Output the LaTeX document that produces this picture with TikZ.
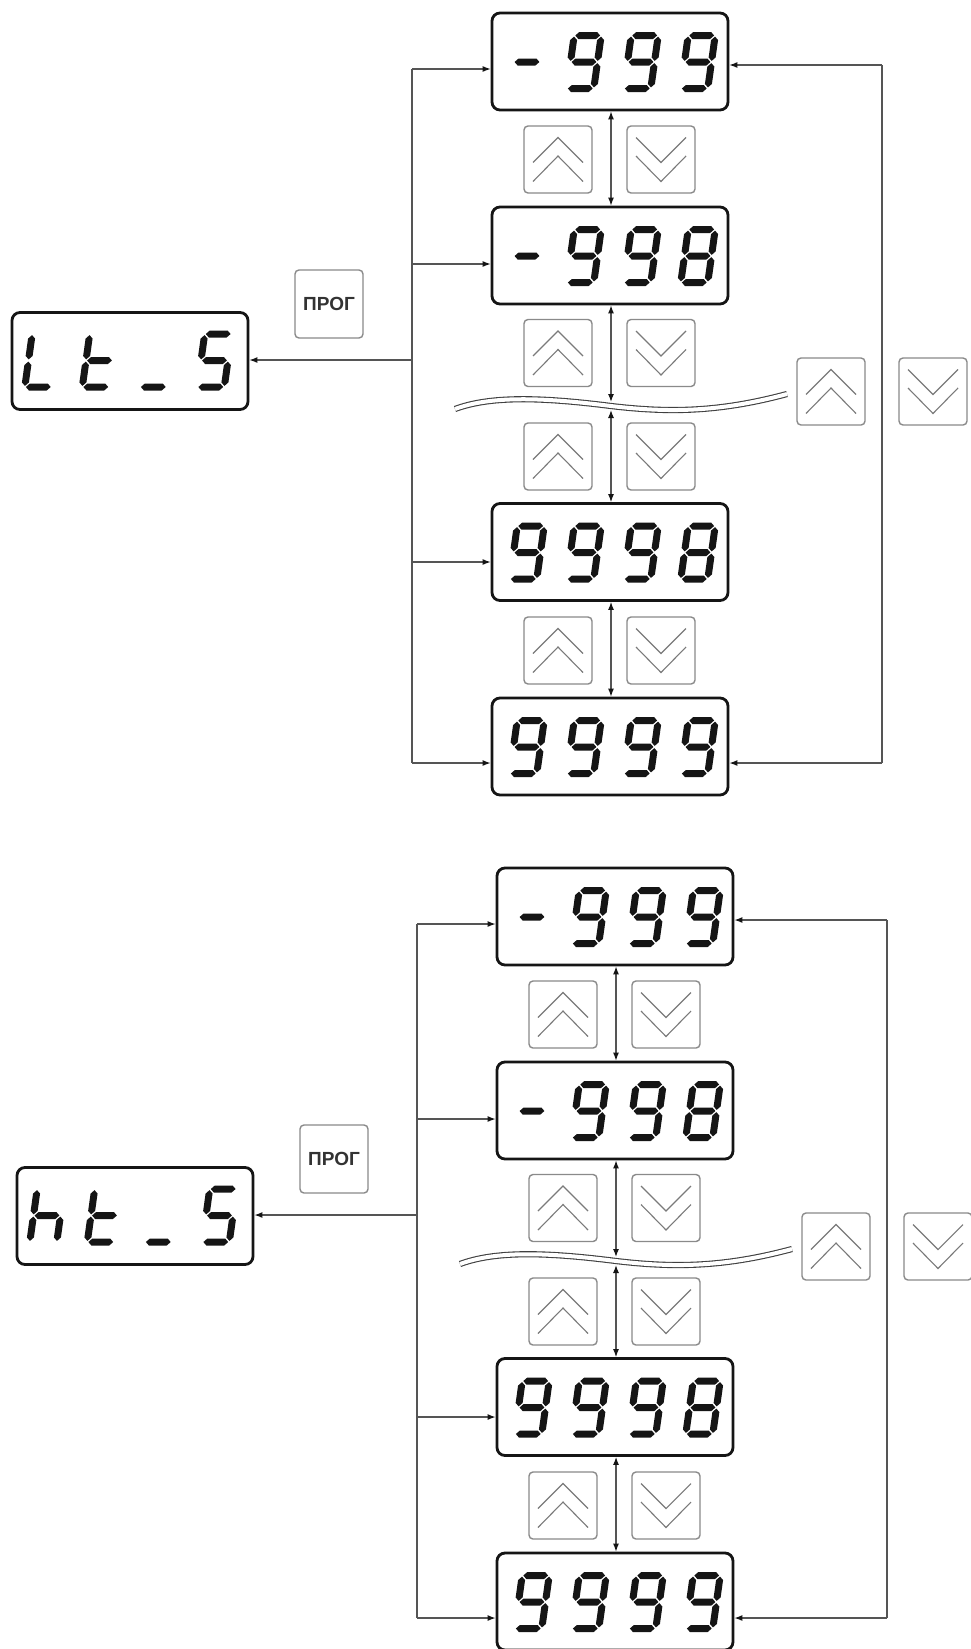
\documentclass[tikz,border=0pt]{standalone}
\usepackage{fontspec}
\newfontfamily\btnfont{Liberation Sans}
\usetikzlibrary{arrows.meta}
\definecolor{segc}{HTML}{151515}
\definecolor{linec}{HTML}{555555}
\definecolor{btnc}{HTML}{8A8A8A}
\definecolor{chevc}{HTML}{7A7A7A}
\definecolor{txtc}{HTML}{333333}
% seven-segment pieces (local coords, y down)
\newcommand\hsg[1]{\fill[segc] (-12.4,#1) -- (-8.9,#1-3.5) -- (8.9,#1-3.5) -- (12.4,#1) -- (8.9,#1+3.5) -- (-8.9,#1+3.5) -- cycle;}
\newcommand\vsg[3]{\fill[segc] (#1,#2+1.1) -- (#1+3.5,#2+4.6) -- (#1+3.5,#3-4.6) -- (#1,#3-1.1) -- (#1-3.5,#3-4.6) -- (#1-3.5,#2+4.6) -- cycle;}
\newcommand\segA{\hsg{-26.5}}
\newcommand\segD{\hsg{26.5}}
\newcommand\segG{\hsg{0}}
\newcommand\segB{\vsg{13.5}{-26.5}{0}}
\newcommand\segC{\vsg{13.5}{0}{26.5}}
\newcommand\segE{\vsg{-13.5}{0}{26.5}}
\newcommand\segF{\vsg{-13.5}{-26.5}{0}}
\newcommand\chNine{\segA\segB\segC\segD\segF\segG}
\newcommand\chEight{\segA\segB\segC\segD\segE\segF\segG}
\newcommand\chMinus{\segG}
\newcommand\chL{\segD\segE\segF}
\newcommand\cht{\segD\segE\segF\segG}
\newcommand\chUnd{\segD}
\newcommand\chS{\segA\segC\segD\segF\segG}
\newcommand\chh{\segC\segE\segF\segG}
\newcommand\chr[3]{\begin{scope}[shift={(#1,#2)},xslant=0.14]#3\end{scope}}
\newcommand\dispR[7]{%
  \node[dispbox] (#1) at (#2,#3) {};
  \chr{#2-83}{#3+0.5}{#4}\chr{#2-26}{#3+0.5}{#5}\chr{#2+31}{#3+0.5}{#6}\chr{#2+88}{#3+0.5}{#7}}
\newcommand\dispL[4]{%
  \node[dispbox] (#1) at (#2,#3) {};
  \chr{#2-88}{#3-0.5}{#4}\chr{#2-30.5}{#3-0.5}{\cht}\chr{#2+27}{#3-0.5}{\chUnd}\chr{#2+84.5}{#3-0.5}{\chS}}
\newcommand\upb[3]{%
  \node[btn] (#1) at (#2,#3) {};
  \draw[chev] (#2-25,#3+3) -- (#2,#3-22) -- (#2+25,#3+3);
  \draw[chev] (#2-25,#3+22) -- (#2,#3-3.5) -- (#2+25,#3+22);}
\newcommand\dnb[3]{%
  \node[btn] (#1) at (#2,#3) {};
  \draw[chev] (#2-25,#3-22) -- (#2,#3+3) -- (#2+25,#3-22);
  \draw[chev] (#2-25,#3-3.5) -- (#2,#3+22) -- (#2+25,#3-3.5);}
\newcommand\diagram[4]{%
\begin{scope}[shift={(#2,#3)}]
  \dispR{#1d1}{610}{61.5}{\chMinus}{\chNine}{\chNine}{\chNine}
  \dispR{#1d2}{610}{255.5}{\chMinus}{\chNine}{\chNine}{\chEight}
  \dispR{#1d3}{610}{552}{\chNine}{\chNine}{\chNine}{\chEight}
  \dispR{#1d4}{610}{746.5}{\chNine}{\chNine}{\chNine}{\chNine}
  \dispL{#1d0}{130}{361}{#4}
  \upb{#1u1}{558}{159.5}\dnb{#1n1}{661}{159.5}
  \upb{#1u2}{558}{353}\dnb{#1n2}{661}{353}
  \upb{#1u3}{558}{456.5}\dnb{#1n3}{661}{456.5}
  \upb{#1u4}{558}{650.5}\dnb{#1n4}{661}{650.5}
  \upb{#1ur}{831}{391.5}\dnb{#1nr}{933}{391.5}
  \node[prog] (#1p) at (329,304) {ПРОГ};
  % left bus
  \coordinate (#1b1) at (412,69);
  \coordinate (#1b2) at (412,264);
  \coordinate (#1b0) at (412,360);
  \coordinate (#1b3) at (412,562);
  \coordinate (#1b4) at (412,763);
  \draw[line] (#1b1) -- (#1b4);
  \draw[arr] (#1b1) -- (#1b1 -| #1d1.west);
  \draw[arr] (#1b2) -- (#1b2 -| #1d2.west);
  \draw[arr] (#1b3) -- (#1b3 -| #1d3.west);
  \draw[arr] (#1b4) -- (#1b4 -| #1d4.west);
  \draw[arr] (#1b0) -- (#1b0 -| #1d0.east);
  % right bus
  \coordinate (#1r1) at (882,65);
  \coordinate (#1r4) at (882,763);
  \draw[line] (#1r1) -- (#1r4);
  \draw[arr] (#1r1) -- (#1r1 -| #1d1.east);
  \draw[arr] (#1r4) -- (#1r4 -| #1d4.east);
  % break line
  \coordinate (#1wl) at (455,409);
  \coordinate (#1wm) at (611,406);
  \coordinate (#1wr) at (787,394);
  \draw[wave] (#1wl) .. controls (490,396) and (540,397) .. (#1wm) .. controls (670,413) and (720,412) .. (#1wr);
  \coordinate (#1wt) at (611,402);
  \coordinate (#1wb) at (611,410);
  % vertical double arrows
  \draw[darr] (#1d1.south -| #1wt) -- (#1d2.north -| #1wt);
  \draw[darr] (#1d2.south -| #1wt) -- (#1wt);
  \draw[darr] (#1wb) -- (#1d3.north -| #1wb);
  \draw[darr] (#1d3.south -| #1wt) -- (#1d4.north -| #1wt);
\end{scope}}
\begin{document}
\begin{tikzpicture}[x=1pt,y=-1pt,
  dispbox/.style={draw=segc,line width=2.8pt,rounded corners=8pt,minimum width=236pt,minimum height=97pt,inner sep=0pt},
  btn/.style={draw=btnc,line width=1.4pt,rounded corners=4pt,minimum width=68pt,minimum height=67pt,inner sep=0pt},
  chev/.style={draw=chevc,line width=1.1pt},
  prog/.style={btn,minimum height=68pt,text=txtc,font=\btnfont\bfseries\fontsize{19}{19}\selectfont},
  line/.style={draw=linec,line width=1.2pt},
  arr/.style={line,-{Latex[length=8pt,width=6pt,color=segc]}},
  darr/.style={line,{Latex[length=8pt,width=6pt,color=segc]}-{Latex[length=8pt,width=6pt,color=segc]}},
  wave/.style={draw=black!75,line width=1.1pt,double=white,double distance=4pt}]
\useasboundingbox (0,0) rectangle (970,1649);
\fill[white] (0,0) rectangle (970,1649);
\diagram{a}{0}{0}{\chL}
\diagram{b}{5}{855}{\chh}
\end{tikzpicture}
\end{document}
